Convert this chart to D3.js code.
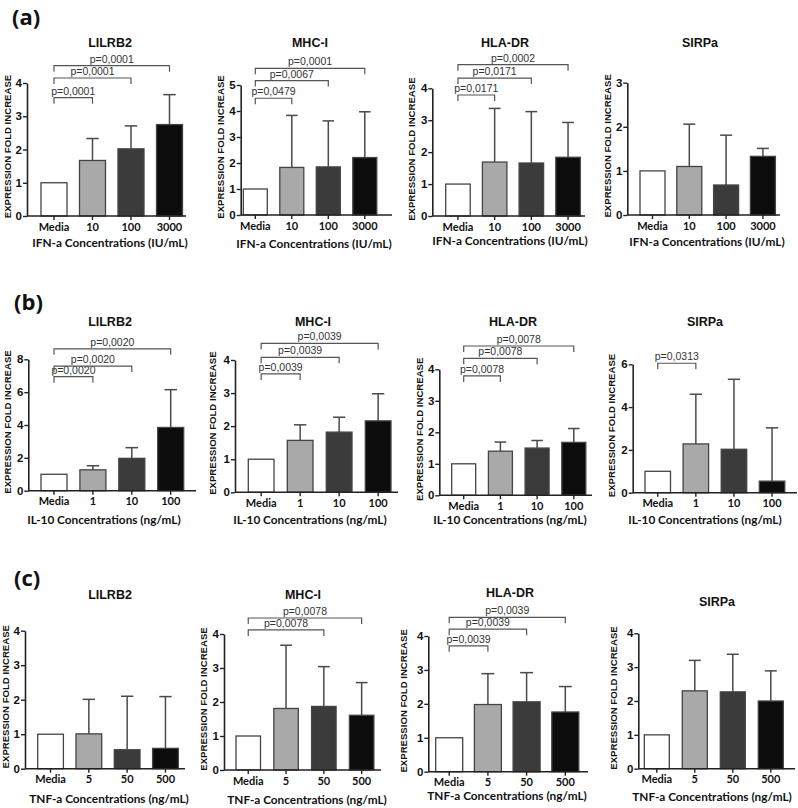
<!DOCTYPE html>
<html><head><meta charset="utf-8">
<script src="https://cdn.jsdelivr.net/npm/d3@7"></script>
<style>body{margin:0;background:#fff}</style>
</head><body>
<svg id="chart" width="798" height="808"></svg>
<script>
// ---------- DATA ----------
const markers = ["LILRB2", "MHC-I", "HLA-DR", "SIRPa"];
const panelLetters = ["(a)", "(b)", "(c)"];
const axisTitles = ["IFN-a Concentrations (IU/mL)", "IL-10 Concentrations (ng/mL)", "TNF-a Concentrations (ng/mL)"];
const yAxisLabel = "EXPRESSION FOLD INCREASE";

const ifnCats = ["Media", "10", "100", "3000"];
const il10Cats = ["Media", "1", "10", "100"];
const tnfCats = ["Media", "5", "50", "500"];

// means per marker (LILRB2, MHC-I, HLA-DR, SIRPa)
const ifnMeans = [[1, 1.67, 2.02, 2.75], [1, 1.83, 1.85, 2.21], [1, 1.69, 1.66, 1.84], [1, 1.10, 0.68, 1.33]];
const ifnErrTop = [[null, 2.33, 2.71, 3.65], [null, 3.83, 3.62, 3.97], [null, 3.37, 3.27, 2.93], [null, 2.06, 1.81, 1.51]];
const il10Means = [[1, 1.27, 1.97, 3.85], [1, 1.57, 1.82, 2.16], [1, 1.40, 1.50, 1.68], [1, 2.28, 2.03, 0.54]];
const il10ErrTop = [[null, 1.52, 2.62, 6.15], [null, 2.04, 2.27, 2.98], [null, 1.69, 1.74, 2.12], [null, 4.60, 5.30, 3.03]];
const tnfMeans = [[1, 1.01, 0.55, 0.59], [1, 1.81, 1.87, 1.61], [1, 1.98, 2.06, 1.76], [1, 2.30, 2.27, 2.00]];
const tnfErrTop = [[null, 2.01, 2.10, 2.09], [null, 3.67, 3.04, 2.57], [null, 2.89, 2.92, 2.51], [null, 3.20, 3.38, 2.89]];

const ifnYMax = [4, 5, 4, 3];
const il10YMax = [8, 4, 4, 6];
const tnfYMax = [4, 4, 4, 4];
const ifnTickStep = [1, 1, 1, 1];
const il10TickStep = [2, 1, 1, 2];
const tnfTickStep = [1, 1, 1, 1];

// comparisons: [target category index, label, bracket height in y units]
const ifnBrackets = [
  [[1, "p=0,0001", 3.56], [2, "p=0,0001", 4.15], [3, "p=0,0001", 4.52]],
  [[1, "p=0,0479", 4.49], [2, "p=0,0067", 5.17], [3, "p=0,0001", 5.64]],
  [[1, "p=0,0171", 3.79], [2, "p=0,0171", 4.32], [3, "p=0,0002", 4.74]],
  []
];
const il10Brackets = [
  [[1, "p=0,0020", 6.94], [2, "p=0,0020", 7.59], [3, "p=0,0020", 8.64]],
  [[1, "p=0,0039", 3.58], [2, "p=0,0039", 4.08], [3, "p=0,0039", 4.50]],
  [[1, "p=0,0078", 3.79], [2, "p=0,0078", 4.35], [3, "p=0,0078", 4.74]],
  [[1, "p=0,0313", 6.05]]
];
const tnfBrackets = [
  [],
  [[2, "p=0,0078", 4.12], [3, "p=0,0078", 4.47]],
  [[1, "p=0,0039", 3.71], [2, "p=0,0039", 4.20], [3, "p=0,0039", 4.55]],
  []
];

const barFills = ["#ffffff", "#a9a9a9", "#3b3b3b", "#0c0c0c"];

// ---------- LAYOUT ----------
const rows = [
  {cats: ifnCats, means: ifnMeans, errs: ifnErrTop, ymax: ifnYMax, steps: ifnTickStep, br: ifnBrackets},
  {cats: il10Cats, means: il10Means, errs: il10ErrTop, ymax: il10YMax, steps: il10TickStep, br: il10Brackets},
  {cats: tnfCats, means: tnfMeans, errs: tnfErrTop, ymax: tnfYMax, steps: tnfTickStep, br: tnfBrackets}
];
const letterPos = [[12, 25], [14, 310], [14, 586]];
const L = [
  {ax:27, left:41, step:38.5, w:26, yTop:83, y0:216, end:186, ylx:7, tx:110, ty:47, xtx:110, xty:247},
  {ax:240.7, left:243.3, step:36.5, w:24, yTop:85, y0:215, end:392, ylx:220, tx:310, ty:47, xtx:314, xty:248},
  {ax:432.3, left:445.7, step:36.7, w:24.5, yTop:88.3, y0:216, end:585, ylx:411, tx:505, ty:47, xtx:510, xty:245},
  {ax:627.3, left:640, step:36.8, w:25, yTop:82.7, y0:215, end:780, ylx:607, tx:700, ty:47, xtx:707, xty:246},
  {ax:28.3, left:41, step:38.9, w:26, yTop:359.3, y0:490.7, end:196, ylx:7, tx:110, ty:326, xtx:104, xty:524},
  {ax:235, left:248.3, step:39, w:25.7, yTop:360, y0:492.3, end:398, ylx:212, tx:313, ty:326, xtx:310, xty:524},
  {ax:439.3, left:451.7, step:36.7, w:24, yTop:369.3, y0:495.3, end:592, ylx:419, tx:513, ty:326, xtx:510, xty:524},
  {ax:632.7, left:645, step:38.1, w:25.5, yTop:364.3, y0:492.7, end:797, ylx:611, tx:705, ty:326, xtx:705, xty:524},
  {ax:25, left:37.7, step:38.3, w:25.7, yTop:630.7, y0:768.7, end:185, ylx:5, tx:110, ty:599, xtx:109, xty:803},
  {ax:224, left:236, step:37.8, w:24.5, yTop:634, y0:770, end:381, ylx:203, tx:303, ty:599, xtx:307, xty:804},
  {ax:428.3, left:435.7, step:38.7, w:27, yTop:636, y0:771.7, end:588, ylx:403, tx:510, ty:597, xtx:507, xty:800},
  {ax:638.3, left:644.3, step:38, w:25, yTop:633.3, y0:768.7, end:795, ylx:613, tx:717, ty:606, xtx:712, xty:801}
];

const svg = d3.select("#chart");
const axisColor = "#222";

rows.forEach((row, ri) => {
  svg.append("text").attr("x", letterPos[ri][0]).attr("y", letterPos[ri][1])
    .attr("font-family", "'Open Sans', sans-serif").attr("font-weight", 700).attr("font-size", 22)
    .attr("fill", "#111").text(panelLetters[ri]);

  markers.forEach((m, mi) => {
    const lay = L[ri * 4 + mi];
    const n = row.cats.length;
    const pi = 1 - lay.w / lay.step;
    const r0 = lay.left - (lay.step - lay.w) / 2;
    const x = d3.scaleBand().domain(row.cats).range([r0, r0 + n * lay.step])
      .paddingInner(pi).paddingOuter(pi / 2);
    const y = d3.scaleLinear().domain([0, row.ymax[mi]]).range([lay.y0, lay.yTop]);
    const g = svg.append("g");

    // title
    g.append("text").attr("x", lay.tx).attr("y", lay.ty).attr("text-anchor", "middle")
      .attr("font-family", "'Liberation Sans', Arial, sans-serif").attr("font-weight", 700)
      .attr("font-size", 12.5).attr("fill", "#111").text(m);

    const means = row.means[mi], errs = row.errs[mi];
    const data = row.cats.map((c, i) => ({c, i, v: means[i], e: errs[i]}));

    // error bars
    data.filter(d => d.e != null).forEach(d => {
      const cx = x(d.c) + x.bandwidth() / 2;
      const cw = x.bandwidth() * 0.48;
      g.append("line").attr("x1", cx).attr("x2", cx).attr("y1", y(d.v)).attr("y2", y(d.e))
        .attr("stroke", "#4a4a4a").attr("stroke-width", 1.5);
      g.append("line").attr("x1", cx - cw / 2).attr("x2", cx + cw / 2).attr("y1", y(d.e)).attr("y2", y(d.e))
        .attr("stroke", "#4a4a4a").attr("stroke-width", 1.5);
    });

    // bars
    g.selectAll("rect.bar").data(data).enter().append("rect")
      .attr("x", d => x(d.c)).attr("width", x.bandwidth())
      .attr("y", d => y(d.v)).attr("height", d => lay.y0 - y(d.v))
      .attr("fill", d => barFills[d.i]).attr("stroke", "#444").attr("stroke-width", 1.3);

    // y axis
    const yTicks = d3.range(0, row.ymax[mi] + 1e-9, row.steps[mi]);
    const yAxis = d3.axisLeft(y).tickValues(yTicks).tickSize(4).tickSizeOuter(0).tickFormat(d3.format("d"));
    const ya = g.append("g").attr("transform", `translate(${lay.ax},0)`).call(yAxis);
    ya.select(".domain").attr("stroke", axisColor).attr("stroke-width", 1.6);
    ya.selectAll(".tick line").attr("stroke", axisColor).attr("stroke-width", 1.4);
    ya.selectAll(".tick text").attr("font-family", "'Liberation Sans', Arial, sans-serif")
      .attr("font-weight", 700).attr("font-size", 11.5).attr("fill", "#111").attr("x", -5);

    // x axis
    const xa = g.append("g").attr("transform", `translate(0,${lay.y0})`)
      .call(d3.axisBottom(x).tickSize(4).tickSizeOuter(0));
    xa.select(".domain").remove();
    xa.append("line").attr("x1", lay.ax).attr("x2", lay.end).attr("y1", 0).attr("y2", 0)
      .attr("stroke", axisColor).attr("stroke-width", 1.6);
    xa.selectAll(".tick line").attr("stroke", axisColor).attr("stroke-width", 1.4);
    xa.selectAll(".tick text").attr("font-family", "Lato, sans-serif").attr("font-weight", 700)
      .attr("font-size", 11).attr("fill", "#111").attr("dy", null).attr("y", 14.5);

    // y axis label
    const ymid = (lay.y0 + lay.yTop) / 2 - 3;
    g.append("text").attr("transform", `translate(${lay.ylx + 3.5},${ymid}) rotate(-90)`)
      .attr("text-anchor", "middle").attr("font-family", "'Liberation Sans', Arial, sans-serif")
      .attr("font-weight", 700).attr("font-size", 9.6).attr("fill", "#111").text(yAxisLabel);

    // x axis title
    g.append("text").attr("x", lay.xtx).attr("y", lay.xty).attr("text-anchor", "middle")
      .attr("font-family", "Lato, sans-serif").attr("font-weight", 700).attr("font-size", 11.8)
      .attr("fill", "#111").text(axisTitles[ri]);

    // significance brackets
    row.br[mi].forEach(([ti, label, h]) => {
      const x1 = x(row.cats[0]) + x.bandwidth() / 2;
      const x2 = x(row.cats[ti]) + x.bandwidth() / 2;
      const yy = y(h);
      g.append("path").attr("d", `M${x1},${yy + 6}V${yy}H${x2}V${yy + 6}`)
        .attr("fill", "none").attr("stroke", "#555").attr("stroke-width", 1.2);
      g.append("text").attr("x", (x1 + x2) / 2).attr("y", yy - 3).attr("text-anchor", "middle")
        .attr("font-family", "'Liberation Sans', Arial, sans-serif").attr("font-size", 10.5)
        .attr("fill", "#333").text(label);
    });
  });
});
</script>
</body></html>
